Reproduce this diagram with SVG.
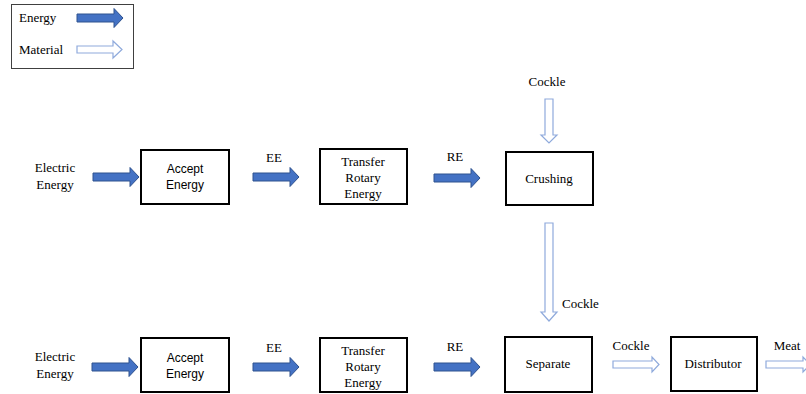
<svg xmlns="http://www.w3.org/2000/svg" width="806" height="394" viewBox="0 0 806 394">
<style>
.t{font-size:13px;fill:#000}
.sans{font-family:"Liberation Sans",Arial,sans-serif;font-size:12px;fill:#000}
.box{fill:#fff;stroke:#000;stroke-width:2}
.en{fill:#4472C4;stroke:#2F528F;stroke-width:1}
.mat{fill:#fff;stroke:#8FAADC;stroke-width:1.2}
</style>
<defs>
<path id="ea" d="M0,-4 H37 V-9.5 L46,0 L37,9.5 V4 H0 Z"/>
</defs>
<rect width="806" height="394" fill="#fff"/>
<g id="legend" font-family="Liberation Serif, Times New Roman, serif">
<rect x="11.5" y="4.5" width="122" height="64" fill="#fff" stroke="#404040" stroke-width="1"/>
<text class="t" x="19" y="22">Energy</text>
<text class="t" x="19" y="54">Material</text>
<use href="#ea" class="en" x="77" y="18"/>
<path class="mat" d="M77,46 H113 V41 L122,49.5 L113,58 V53 H77 Z"/>
</g>
<g id="labels" font-family="Liberation Serif, Times New Roman, serif">
<text class="t" x="55" y="172" text-anchor="middle">Electric</text>
<text class="t" x="55" y="189" text-anchor="middle">Energy</text>
<text class="t" x="274" y="162" text-anchor="middle">EE</text>
<text class="t" x="455" y="161" text-anchor="middle">RE</text>
<text class="t" x="547" y="86" text-anchor="middle">Cockle</text>
<text class="t" x="562" y="308">Cockle</text>
<text class="t" x="55" y="361" text-anchor="middle">Electric</text>
<text class="t" x="55" y="378" text-anchor="middle">Energy</text>
<text class="t" x="274" y="352" text-anchor="middle">EE</text>
<text class="t" x="455" y="351" text-anchor="middle">RE</text>
<text class="t" x="631" y="350" text-anchor="middle">Cockle</text>
<text class="t" x="787" y="350" text-anchor="middle">Meat</text>
</g>
<g id="accept1">
<rect class="box" x="141" y="150" width="88" height="54"/>
<text class="sans" x="185" y="173" text-anchor="middle">Accept</text>
<text class="sans" x="185" y="189" text-anchor="middle">Energy</text>
</g>
<g id="transfer1" font-family="Liberation Serif, Times New Roman, serif">
<rect class="box" x="320" y="149" width="87" height="55"/>
<text class="t" x="363" y="166" text-anchor="middle">Transfer</text>
<text class="t" x="363" y="182" text-anchor="middle">Rotary</text>
<text class="t" x="363" y="198" text-anchor="middle">Energy</text>
</g>
<g id="crushing" font-family="Liberation Serif, Times New Roman, serif">
<rect class="box" x="506" y="152" width="87" height="53"/>
<text class="t" x="549" y="183" text-anchor="middle">Crushing</text>
</g>
<g id="accept2">
<rect class="box" x="141" y="338" width="88" height="54"/>
<text class="sans" x="185" y="362" text-anchor="middle">Accept</text>
<text class="sans" x="185" y="378" text-anchor="middle">Energy</text>
</g>
<g id="transfer2" font-family="Liberation Serif, Times New Roman, serif">
<rect class="box" x="320" y="338" width="87" height="54"/>
<text class="t" x="363" y="355" text-anchor="middle">Transfer</text>
<text class="t" x="363" y="371" text-anchor="middle">Rotary</text>
<text class="t" x="363" y="387" text-anchor="middle">Energy</text>
</g>
<g id="separate" font-family="Liberation Serif, Times New Roman, serif">
<rect class="box" x="505" y="337" width="87" height="55"/>
<text class="t" x="548" y="368" text-anchor="middle">Separate</text>
</g>
<g id="distributor" font-family="Liberation Serif, Times New Roman, serif">
<rect class="box" x="671" y="337" width="86" height="54"/>
<text class="t" x="713" y="368" text-anchor="middle">Distributor</text>
</g>
<g id="connectors">
<use href="#ea" class="en" x="93" y="177"/>
<use href="#ea" class="en" x="253" y="177"/>
<use href="#ea" class="en" x="434" y="178"/>
<use href="#ea" class="en" x="92" y="367"/>
<use href="#ea" class="en" x="253" y="367"/>
<use href="#ea" class="en" x="434" y="367"/>
<path class="mat" d="M545,99 V135 H541 L549,143 L557,135 H553 V99 Z"/>
<path class="mat" d="M545,223 V312 H541 L549,321 L557,312 H553 V223 Z"/>
<path class="mat" d="M613,361 H652 V357 L659,364.5 L652,372 V368 H613 Z"/>
<path class="mat" d="M766,361 H803 V357 L810,364.5 L803,372 V368 H766 Z"/>
</g>
</svg>
